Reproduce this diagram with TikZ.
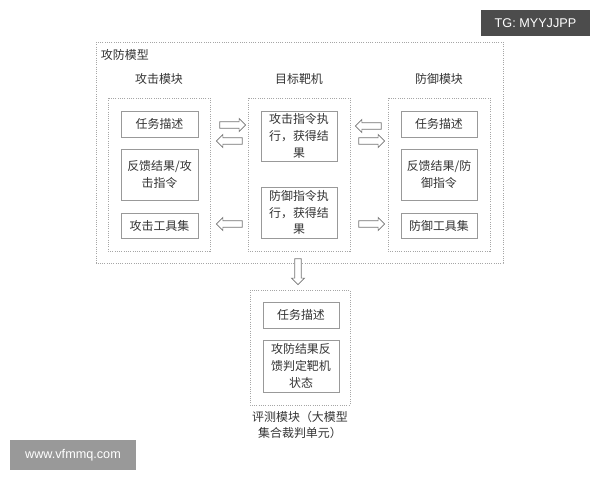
\documentclass[tikz,border=0pt]{standalone}
\usepackage{fontspec}
\setmainfont{Liberation Sans}
\newfontfamily\cjk{Noto Sans CJK SC}
\usetikzlibrary{shapes.arrows}
\tikzset{
  panel/.style={draw=black!35,densely dotted,line width=0.6pt},
  item/.style={draw=black!40,line width=0.6pt},
  lbl/.style={font=\cjk\fontsize{8.5}{12}\selectfont,align=center,text=black!80},
  hollow/.style={single arrow,draw=black!55,fill=white,line width=0.5pt,
    minimum height=26*0.025cm,inner sep=2.1pt,single arrow head extend=2.3pt,
    single arrow head indent=0pt}
}
\begin{document}
\begin{tikzpicture}[x=0.025cm,y=-0.025cm]
  \useasboundingbox (0,0) rectangle (600,480);

  % ================================================================
  % outer model
  % ================================================================
  \draw[panel] (96,42) rectangle (503,263);
  \node[lbl,anchor=north west] (title) at (96,44) {攻防模型};

  % headers
  \node[lbl] (hatk) at (159,79) {攻击模块};
  \node[lbl] (htgt) at (299,79) {目标靶机};
  \node[lbl] (hdef) at (439,79) {防御模块};

  % panels
  \draw[panel] (108,98) rectangle (210,251);
  \draw[panel] (248,98) rectangle (350,251);
  \draw[panel] (388,98) rectangle (490,251);

  % attack items
  \draw[item] (121,111) rectangle (198,137) node[lbl,midway] (atask) {任务描述};
  \draw[item] (121,149) rectangle (198,200) node[lbl,midway] (afb) {反馈结果/攻\\击指令};
  \draw[item] (121,213) rectangle (198,238) node[lbl,midway] (atool) {攻击工具集};

  % target items
  \draw[item] (261,111) rectangle (337,161) node[lbl,midway] (texe) {攻击指令执\\行，获得结\\果};
  \draw[item] (261,187) rectangle (337,238) node[lbl,midway] (tdef) {防御指令执\\行，获得结\\果};

  % defense items
  \draw[item] (401,111) rectangle (477,137) node[lbl,midway] (dtask) {任务描述};
  \draw[item] (401,149) rectangle (477,200) node[lbl,midway] (dfb) {反馈结果/防\\御指令};
  \draw[item] (401,213) rectangle (477,238) node[lbl,midway] (dtool) {防御工具集};

  % hollow arrows
  \node[hollow] (a1) at (231,125) {};
  \node[hollow,shape border rotate=180] (a2) at (231,141) {};
  \node[hollow,shape border rotate=180] (a3) at (231,224) {};
  \node[hollow,shape border rotate=180] (a4) at (370,126) {};
  \node[hollow] (a5) at (370,141) {};
  \node[hollow] (a6) at (370,224) {};
  \node[hollow,shape border rotate=270] (a7) at (298,270) {};

  % ================================================================
  % evaluation
  % ================================================================
  \draw[panel] (250,290) rectangle (350,405);
  \draw[item] (263,302) rectangle (339,328) node[lbl,midway] (etask) {任务描述};
  \draw[item] (263,340) rectangle (339,392) node[lbl,midway] (ejudge) {攻防结果反\\馈判定靶机\\状态};
  \node[lbl] (eval) at (300,425) {评测模块（大模型\\集合裁判单元）};

  % watermarks
  \node[fill=black!70,text=white,font=\fontsize{9}{11}\selectfont,minimum width=109*0.025cm,minimum height=26*0.025cm,inner sep=0pt] (tg) at (535.5,23) {TG: MYYJJPP};
  \node[fill=black!40,text=white,font=\fontsize{9}{11}\selectfont,minimum width=126*0.025cm,minimum height=30*0.025cm,inner sep=0pt] (www) at (73,455) {www.vfmmq.com};
\end{tikzpicture}
\end{document}
